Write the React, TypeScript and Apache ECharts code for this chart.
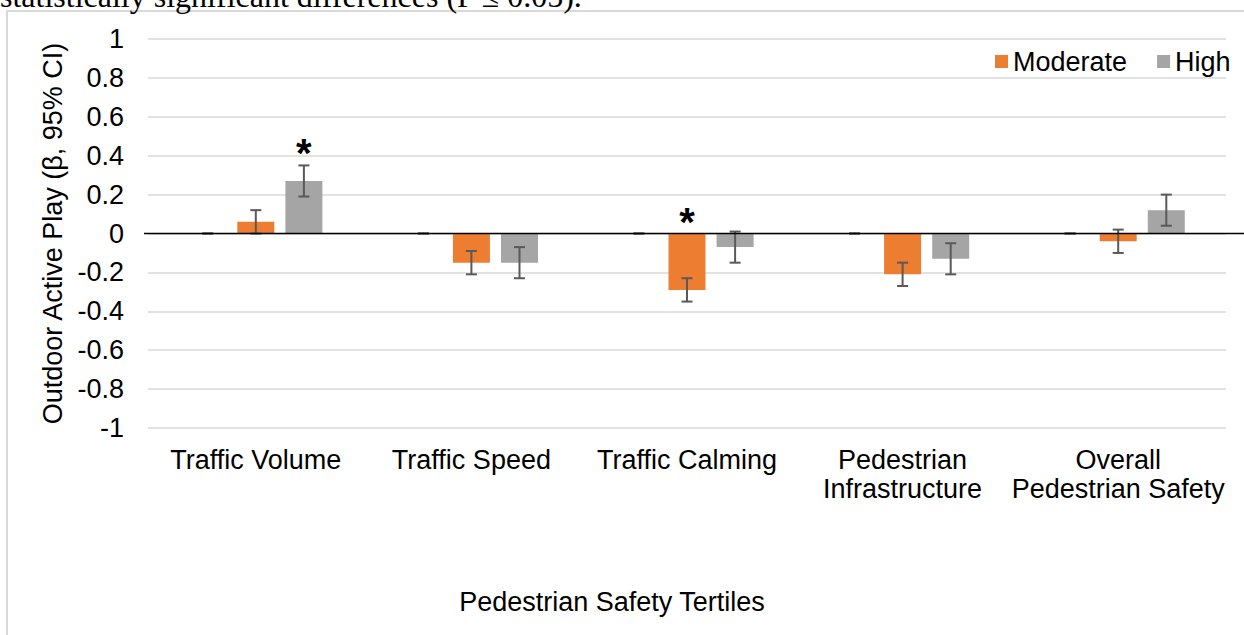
import React, { useEffect, useRef } from "react";
import * as echarts from "echarts";

const categories = [
  "Traffic Volume",
  "Traffic Speed",
  "Traffic Calming",
  "Pedestrian\nInfrastructure",
  "Overall\nPedestrian Safety",
];
const lowValues = [0, 0, 0, 0, 0];
const lowLower = [0, 0, 0, 0, 0];
const lowUpper = [0, 0, 0, 0, 0];
const moderateValues = [0.06, -0.15, -0.29, -0.21, -0.04];
const moderateLower = [0.0, -0.21, -0.35, -0.27, -0.1];
const moderateUpper = [0.12, -0.09, -0.23, -0.15, 0.02];
const moderateSig = [0, 0, 1, 0, 0];
const highValues = [0.27, -0.15, -0.07, -0.13, 0.12];
const highLower = [0.19, -0.23, -0.15, -0.21, 0.04];
const highUpper = [0.35, -0.07, 0.01, -0.05, 0.2];
const highSig = [1, 0, 0, 0, 0];
const yMin = -1;
const yMax = 1;
const yInterval = 0.2;

const FONT = "Liberation Sans, Arial, sans-serif";
const FS = 27;
const BAR_W = 37;
const BAR_GAP = 0.3;
const STEP = BAR_W * (1 + BAR_GAP);

function errorSeries(name: string, offsetIndex: number, lower: number[], upper: number[], sig: number[]) {
  return {
    name: name + " CI",
    type: "custom",
    silent: true,
    z: 5,
    data: lower.map((lo, i) => [i, lo, upper[i], sig[i] || 0]),
    encode: { x: 0, y: [1, 2] },
    renderItem: (params: any, api: any) => {
      const idx = api.value(0);
      const lo = api.value(1);
      const hi = api.value(2);
      const s = api.value(3);
      const pLo = api.coord([idx, lo]);
      const pHi = api.coord([idx, hi]);
      const x = pLo[0] + offsetIndex * STEP;
      const cap = 5.5;
      const st = { stroke: "#595959", lineWidth: 2 };
      const children: any[] = [
        { type: "line", shape: { x1: x, y1: pLo[1], x2: x, y2: pHi[1] }, style: st },
        { type: "line", shape: { x1: x - cap, y1: pLo[1], x2: x + cap, y2: pLo[1] }, style: st },
        { type: "line", shape: { x1: x - cap, y1: pHi[1], x2: x + cap, y2: pHi[1] }, style: st },
      ];
      if (s) {
        const yTop = api.coord([idx, Math.max(0, hi)])[1];
        children.push({
          type: "text",
          style: {
            text: "*",
            x: x,
            y: yTop - 12,
            align: "center",
            verticalAlign: "middle",
            fontSize: 40,
            fontWeight: "bold",
            fontFamily: FONT,
            fill: "#000",
          },
        });
      }
      return { type: "group", children };
    },
  };
}

export default function App() {
  const ref = useRef<HTMLDivElement>(null);
  useEffect(() => {
    document.body.style.margin = "0";
    const chart = echarts.init(ref.current!, null, { renderer: "svg" });
    chart.setOption({
      animation: false,
      backgroundColor: "#fff",
      textStyle: { fontFamily: FONT },
      grid: { left: 148, right: 18, top: 39, bottom: 207 },
      legend: {
        data: ["Moderate", "High"],
        left: 990,
        top: 43,
        icon: "rect",
        itemWidth: 13,
        itemHeight: 13,
        itemGap: 30,
        textStyle: { fontSize: FS, color: "#000", fontFamily: FONT },
      },
      xAxis: {
        type: "category",
        data: categories,
        axisLine: { show: false, onZero: false },
        axisTick: { show: false },
        axisLabel: {
          fontSize: FS,
          color: "#000",
          margin: 17,
          lineHeight: 29,
          interval: 0,
          fontFamily: FONT,
        },
        name: "Pedestrian Safety Tertiles",
        nameLocation: "middle",
        nameGap: 160,
        nameTextStyle: {
          fontSize: FS,
          color: "#000",
          fontFamily: FONT,
          padding: [0, 150, 0, 0],
        },
      },
      yAxis: {
        type: "value",
        min: yMin,
        max: yMax,
        interval: yInterval,
        axisLine: { show: false },
        axisTick: { show: false },
        splitLine: { lineStyle: { color: "#d9d9d9", width: 1.5 } },
        axisLabel: { fontSize: FS, color: "#000", margin: 24, fontFamily: FONT },
        name: "Outdoor Active Play (β, 95% CI)",
        nameLocation: "middle",
        nameRotate: 90,
        nameGap: 80,
        nameTextStyle: { fontSize: FS, color: "#000", fontFamily: FONT },
      },
      series: [
        {
          name: "Low",
          type: "bar",
          data: lowValues,
          barWidth: BAR_W,
          barGap: "30%",
          itemStyle: { color: "#7f7f7f" },
        },
        {
          name: "Moderate",
          type: "bar",
          data: moderateValues,
          barWidth: BAR_W,
          barGap: "30%",
          itemStyle: { color: "#ED7D31" },
        },
        {
          name: "High",
          type: "bar",
          data: highValues,
          barWidth: BAR_W,
          barGap: "30%",
          itemStyle: { color: "#A5A5A5" },
        },
        errorSeries("Low", -1, lowLower, lowUpper, [0, 0, 0, 0, 0]),
        errorSeries("Moderate", 0, moderateLower, moderateUpper, moderateSig),
        errorSeries("High", 1, highLower, highUpper, highSig),
      ],
    });
    const y0 = chart.convertToPixel({ yAxisIndex: 0 }, 0) as number;
    chart.setOption({
      graphic: [
        {
          type: "rect",
          shape: { x: 7, y: 11, width: 1260, height: 650 },
          style: { fill: "none", stroke: "#d9d9d9", lineWidth: 2 },
          silent: true,
          z: 0,
        },
        {
          type: "text",
          x: 0,
          y: -4,
          style: {
            text: "statistically significant differences (P \u2264 0.05).",
            fontFamily: "Liberation Serif, Times New Roman, serif",
            fontSize: 32,
            fill: "#000",
            align: "left",
            verticalAlign: "middle",
          },
          silent: true,
        },
        {
          type: "line",
          shape: { x1: 144, y1: y0, x2: 1244, y2: y0 },
          style: { stroke: "#000", lineWidth: 1.5 },
          silent: true,
          z: 10,
        },
      ],
    });
    return () => chart.dispose();
  }, []);
  return (
    <div
      ref={ref}
      style={{ position: "fixed", left: 0, top: 0, width: 1244, height: 635 }}
    />
  );
}
